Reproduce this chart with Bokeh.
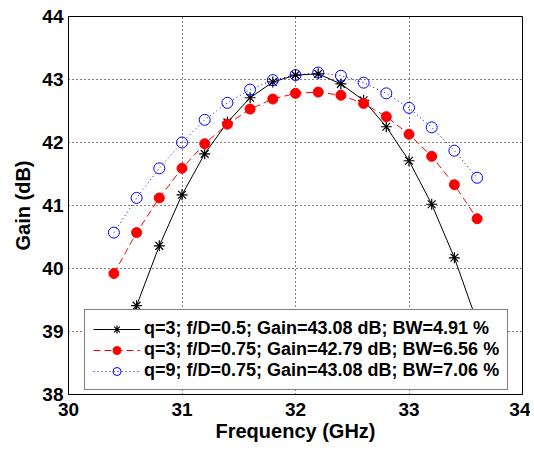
from bokeh.plotting import figure
from bokeh.models import Range1d, FixedTicker, Legend, LegendItem
from bokeh.embed import file_html
from bokeh.resources import INLINE

freq = [30.4, 30.6, 30.8, 31.0, 31.2, 31.4, 31.6, 31.8, 32.0,
        32.2, 32.4, 32.6, 32.8, 33.0, 33.2, 33.4, 33.6]
gain_q3_fd05 = [38.45, 39.41, 40.36, 41.17, 41.82, 42.32, 42.71, 42.96, 43.07,
                43.09, 42.93, 42.67, 42.25, 41.71, 41.02, 40.17, 39.15]
gain_q3_fd075 = [39.92, 40.57, 41.12, 41.59, 41.98, 42.29, 42.53, 42.69, 42.78,
                 42.80, 42.75, 42.62, 42.41, 42.13, 41.78, 41.33, 40.79]
gain_q9_fd075 = [40.57, 41.12, 41.59, 42.00, 42.36, 42.63, 42.84, 42.99, 43.07,
                 43.11, 43.06, 42.95, 42.78, 42.55, 42.24, 41.87, 41.44]
labels = ["q=3; f/D=0.5; Gain=43.08 dB; BW=4.91 %",
          "q=3; f/D=0.75; Gain=42.79 dB; BW=6.56 %",
          "q=9; f/D=0.75; Gain=43.08 dB; BW=7.06 %"]
x_ticks = [30, 31, 32, 33, 34]
y_ticks = [38, 39, 40, 41, 42, 43, 44]

FONT = "Liberation Sans"

p = figure(width=530, height=449, output_backend="svg", toolbar_location=None,
           x_range=Range1d(30, 34), y_range=Range1d(38, 44),
           min_border_left=68, min_border_right=8, min_border_top=16, min_border_bottom=55,
           x_axis_label="Frequency (GHz)", y_axis_label="Gain (dB)")
p.background_fill_color = "white"
p.border_fill_color = "white"
p.outline_line_color = "black"
p.outline_line_width = 1

p.xaxis.ticker = FixedTicker(ticks=x_ticks)
p.yaxis.ticker = FixedTicker(ticks=y_ticks)
for ax in (p.xaxis[0], p.yaxis[0]):
    ax.major_tick_in = 0
    ax.major_tick_out = 0
    ax.minor_tick_in = 0
    ax.minor_tick_out = 0
    ax.axis_line_color = "black"
    ax.major_label_text_font = FONT
    ax.major_label_text_font_style = "bold"
    ax.major_label_text_font_size = "19px"
    ax.major_label_text_color = "black"
    ax.axis_label_text_font = FONT
    ax.axis_label_text_font_style = "bold"
    ax.axis_label_text_font_size = "20px"
    ax.axis_label_text_color = "black"
p.xaxis.major_label_standoff = 8
p.xaxis.axis_label_standoff = 1
p.yaxis.major_label_standoff = 5
p.yaxis.axis_label_standoff = 5

for g in (p.xgrid[0], p.ygrid[0]):
    g.grid_line_color = "black"
    g.grid_line_dash = "1 3"
    g.grid_line_width = 1

l1 = p.line(freq, gain_q3_fd05, line_color="black", line_width=1)
m1 = p.scatter(freq, gain_q3_fd05, marker="asterisk", size=11, line_color="black", line_width=1.2)

l2 = p.line(freq, gain_q3_fd075, line_color="red", line_width=1, line_dash="7 4")
m2 = p.scatter(freq, gain_q3_fd075, marker="circle", size=10, fill_color="red", line_color="red")

l3 = p.line(freq, gain_q9_fd075, line_color="blue", line_width=1, line_dash="1 3")
m3 = p.scatter(freq, gain_q9_fd075, marker="circle", size=11, fill_color=None, line_color="blue", line_width=1)

legend = Legend(items=[LegendItem(label=labels[0], renderers=[l1, m1]),
                       LegendItem(label=labels[1], renderers=[l2, m2]),
                       LegendItem(label=labels[2], renderers=[l3, m3])],
                location=(16, 4))
legend.label_text_font = FONT
legend.label_text_font_style = "bold"
legend.label_text_font_size = "18px"
legend.label_text_color = "black"
legend.glyph_width = 47
legend.glyph_height = 20
legend.label_height = 20
legend.label_standoff = 4
legend.padding = 8
legend.spacing = -3
legend.margin = 0
legend.border_line_color = "black"
legend.border_line_width = 1.5
legend.background_fill_color = "white"
legend.background_fill_alpha = 1
p.add_layout(legend, "center")

open("out.html", "w").write(file_html(p, INLINE))
